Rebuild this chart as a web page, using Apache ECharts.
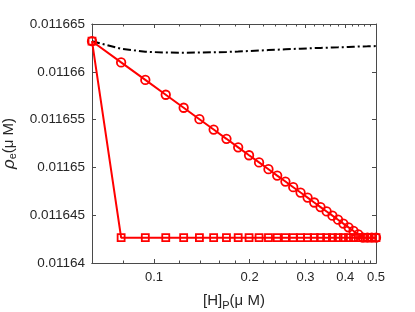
<!DOCTYPE html>
<html>
<head>
<meta charset="utf-8">
<script src="https://cdn.jsdelivr.net/npm/echarts@6/dist/echarts.min.js"></script>
<style>html,body{margin:0;padding:0;background:#fff;}#c{width:415px;height:312px;}</style>
</head>
<body>
<div id="c"></div>
<script>
const xValues = [0.0638,0.0788,0.0939,0.1089,0.1240,0.1390,0.1541,0.1691,0.1841,0.1992,0.2142,0.2293,0.2443,0.2593,0.2744,0.2894,0.3045,0.3195,0.3345,0.3496,0.3646,0.3797,0.3947,0.4097,0.4248,0.4398,0.4549,0.4699,0.4850,0.5000];
const circleValues = [0.0116632,0.01166098,0.01165915,0.01165760,0.01165624,0.01165504,0.01165396,0.01165299,0.01165210,0.01165127,0.01165052,0.01164981,0.01164914,0.01164852,0.01164793,0.01164737,0.01164684,0.01164633,0.01164585,0.01164539,0.01164495,0.01164453,0.01164412,0.01164373,0.01164335,0.01164299,0.01164266,0.01164265,0.01164265,0.01164265];
const squareValues = [0.0116632,0.01164265,0.01164265,0.01164265,0.01164265,0.01164265,0.01164265,0.01164265,0.01164265,0.01164265,0.01164265,0.01164265,0.01164265,0.01164265,0.01164265,0.01164265,0.01164265,0.01164265,0.01164265,0.01164265,0.01164265,0.01164265,0.01164265,0.01164265,0.01164265,0.01164265,0.01164265,0.01164265,0.01164265,0.01164265];
const dashValues = [0.01166319,0.01166240,0.01166210,0.01166201,0.01166200,0.01166201,0.01166204,0.01166208,0.01166212,0.01166217,0.01166222,0.01166227,0.01166231,0.01166235,0.01166239,0.01166242,0.01166245,0.01166248,0.01166250,0.01166252,0.01166254,0.01166256,0.01166258,0.01166260,0.01166262,0.01166264,0.01166265,0.01166266,0.01166267,0.01166269];
const xMajorTicks = [0.1,0.2,0.3,0.4,0.5];
const xMinorTicks = [0.08,0.12,0.14,0.16,0.18,0.22,0.24,0.26,0.28,0.32,0.34,0.36,0.38,0.42,0.44,0.46,0.48];
const yMin = 0.01164, yMax = 0.011665, yStep = 0.000005;
const xMin = 0.0638, xMax = 0.5;

const axisColor = '#4a4a4a';
const textColor = '#262626';
const font = 'Liberation Sans, Arial, Helvetica, sans-serif';

function xAxisDef(pos, ticks, len, showLabel, extra) {
  return Object.assign({
    type: 'log', logBase: 10, min: xMin, max: xMax, position: pos,
    axisLine: { show: true, onZero: false, lineStyle: { color: axisColor, width: 1 } },
    axisTick: { show: true, inside: true, length: len, customValues: ticks, lineStyle: { color: axisColor, width: 1 } },
    axisLabel: { show: showLabel, customValues: ticks, color: textColor, fontFamily: font, fontSize: 13, margin: 8,
      formatter: v => String(parseFloat(Number(v).toFixed(2))) },
    minorTick: { show: false }, splitLine: { show: false }
  }, extra || {});
}
function yAxisDef(pos, showLabel, extra) {
  return Object.assign({
    type: 'value', min: yMin, max: yMax, interval: yStep, position: pos,
    axisLine: { show: true, onZero: false, lineStyle: { color: axisColor, width: 1 } },
    axisTick: { show: true, inside: true, length: 4, lineStyle: { color: axisColor, width: 1 } },
    axisLabel: { show: showLabel, color: textColor, fontFamily: font, fontSize: 13.5, margin: 7,
      formatter: v => String(parseFloat(Number(v).toFixed(6))) },
    splitLine: { show: false }
  }, extra || {});
}

const chart = echarts.init(document.getElementById('c'), null, { renderer: 'canvas' });
const xy = (ys) => xValues.map((x, i) => [x, ys[i]]);
chart.setOption({
  animation: false,
  backgroundColor: '#fff',
  grid: { left: 92, right: 39, top: 24, bottom: 49, containLabel: false, outerBoundsMode: 'none' },
  xAxis: [
    xAxisDef('bottom', xMajorTicks, 4, true, {
      name: '[H]{sub|P}(μ M)', nameLocation: 'middle', nameGap: 28,
      nameTextStyle: { color: textColor, fontFamily: font, fontSize: 15,
        rich: { sub: { fontSize: 11, color: textColor, fontFamily: font, padding: [9, 0, 0, 0] } } }
    }),
    xAxisDef('bottom', xMinorTicks, 2.5, false),
    xAxisDef('top', xMajorTicks, 4, false),
    xAxisDef('top', xMinorTicks, 2.5, false)
  ],
  yAxis: [
    yAxisDef('left', true, {
      name: '{it|ρ}{sub|e}(μ M)', nameLocation: 'middle', nameGap: 65, nameRotate: 90,
      nameTextStyle: { color: textColor, fontFamily: font, fontSize: 15,
        rich: { it: { fontStyle: 'italic', fontSize: 17, color: textColor, fontFamily: font },
                sub: { fontSize: 11, color: textColor, fontFamily: font, padding: [9, 0, 0, 0] } } }
    }),
    yAxisDef('right', false)
  ],
  series: [
    { type: 'line', xAxisIndex: 0, yAxisIndex: 0, data: xy(dashValues), symbol: 'none',
      lineStyle: { color: '#000', width: 2, type: [8, 3, 2, 3] }, z: 3 },
    { type: 'line', xAxisIndex: 0, yAxisIndex: 0, data: xy(circleValues), symbol: 'circle', symbolSize: 8.5,
      lineStyle: { color: '#ff0000', width: 2 },
      itemStyle: { color: 'rgba(0,0,0,0)', borderColor: '#ff0000', borderWidth: 1.8 }, z: 4 },
    { type: 'line', xAxisIndex: 0, yAxisIndex: 0, data: xy(squareValues), symbol: 'rect', symbolSize: 7,
      lineStyle: { color: '#ff0000', width: 2 },
      itemStyle: { color: 'rgba(0,0,0,0)', borderColor: '#ff0000', borderWidth: 1.8 }, z: 5 }
  ]
});
</script>
</body>
</html>
